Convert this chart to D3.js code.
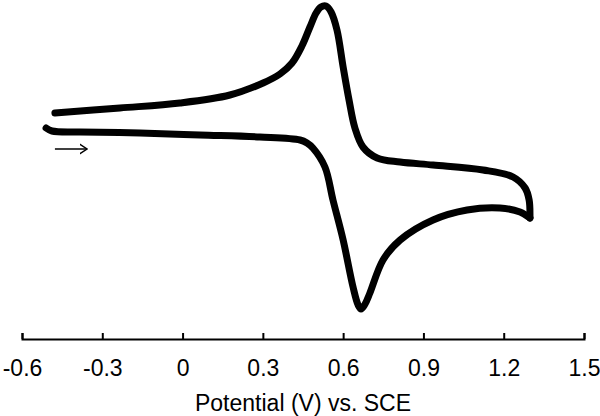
<!DOCTYPE html>
<html lang="en">
  <head>
    <meta charset="UTF-8" />
    <title>Cyclic voltammogram</title>
    <script src="https://cdn.jsdelivr.net/npm/d3@7"></script>
    <style>
      body {
        margin: 0;
        background: #fff;
      }
      text {
        font-family: "Liberation Sans", Arial, sans-serif;
      }
    </style>
  </head>

  <body>
    <script>
      const width = 600;
      const height = 416;

      // Forward scan (V vs. SCE, current in arbitrary units)
      const forwardPotential = [
        -0.51, -0.488, -0.383, -0.159, 0.065, 0.289, 0.439, 0.465, 0.487, 0.532,
        0.562, 0.6, 0.637, 0.656, 0.667, 0.682, 0.7, 0.749, 0.813, 0.936, 1.063,
        1.186, 1.261, 1.298,
      ];
      const forwardCurrent = [
        1.2, 0.9, 0.8, 0.7, 0.5, 0.3, 0.0, -0.3, -0.8, -2.7, -6.0, -10.0, -14.7,
        -16.5, -16.9, -16.4, -15.3, -12.0, -10.0, -8.0, -7.0, -6.8, -7.2, -7.8,
      ];

      // Reverse scan
      const reversePotential = [
        1.298, 1.295, 1.28, 1.235, 1.123, 0.936, 0.813, 0.727, 0.674, 0.644,
        0.622, 0.6, 0.577, 0.555, 0.536, 0.517, 0.499, 0.476, 0.446, 0.409,
        0.364, 0.301, 0.177, -0.01, -0.234, -0.477,
      ];
      const reverseCurrent = [
        -7.8, -6.0, -4.8, -3.7, -3.0, -2.5, -2.2, -1.8, -0.7, 1.2, 4.0, 7.3,
        11.0, 12.8, 13.4, 13.3, 12.7, 11.3, 9.4, 7.7, 6.6, 5.7, 4.5, 3.7, 3.2,
        2.7,
      ];

      const xTicks = [-0.6, -0.3, 0, 0.3, 0.6, 0.9, 1.2, 1.5];
      // scan direction arrow
      const arrowPotential = [-0.477, -0.357];
      const arrowCurrent = -0.9;

      const x = d3.scaleLinear().domain([-0.6, 1.5]).range([22, 584]);
      const y = d3.scaleLinear().domain([-20, 14]).range([340, 0]);

      const svg = d3
        .select("body")
        .append("svg")
        .attr("width", width)
        .attr("height", height);

      const line = d3
        .line()
        .x((d) => x(d[0]))
        .y((d) => y(d[1]))
        .curve(d3.curveCatmullRom.alpha(0.5));

      const scans = [
        d3.zip(forwardPotential, forwardCurrent),
        d3.zip(reversePotential, reverseCurrent),
      ];

      svg
        .append("g")
        .selectAll("path")
        .data(scans)
        .join("path")
        .attr("d", line)
        .attr("fill", "none")
        .attr("stroke", "#000")
        .attr("stroke-width", 7)
        .attr("stroke-linecap", "round")
        .attr("stroke-linejoin", "round");

      // Arrow marker
      svg
        .append("defs")
        .append("marker")
        .attr("id", "arrow")
        .attr("viewBox", "0 -6 8 12")
        .attr("refX", 7.5)
        .attr("refY", 0)
        .attr("markerWidth", 8)
        .attr("markerHeight", 12)
        .attr("markerUnits", "userSpaceOnUse")
        .attr("orient", "auto")
        .append("path")
        .attr("d", "M0,-5L7.5,0L0,5")
        .attr("fill", "none")
        .attr("stroke", "#000")
        .attr("stroke-width", 1.5);

      svg
        .append("line")
        .attr("x1", x(arrowPotential[0]))
        .attr("x2", x(arrowPotential[1]))
        .attr("y1", y(arrowCurrent))
        .attr("y2", y(arrowCurrent))
        .attr("stroke", "#000")
        .attr("stroke-width", 1.5)
        .attr("marker-end", "url(#arrow)");

      // x axis, ticks pointing up
      const axis = svg
        .append("g")
        .attr("transform", "translate(0,339)")
        .call(
          d3
            .axisBottom(x)
            .tickValues(xTicks)
            .tickFormat((d) => String(d))
            .tickSizeInner(-6)
            .tickSizeOuter(-6)
            .tickPadding(21)
        );

      axis.selectAll("path, line").attr("stroke", "#000").attr("stroke-width", 2);
      axis
        .selectAll("text")
        .attr("font-size", 23)
        .attr("font-family", "'Liberation Sans', Arial, sans-serif")
        .attr("fill", "#000");

      svg
        .append("text")
        .attr("x", 303)
        .attr("y", 411)
        .attr("text-anchor", "middle")
        .attr("font-size", 23)
        .attr("fill", "#000")
        .text("Potential (V) vs. SCE");
    </script>
  </body>
</html>
